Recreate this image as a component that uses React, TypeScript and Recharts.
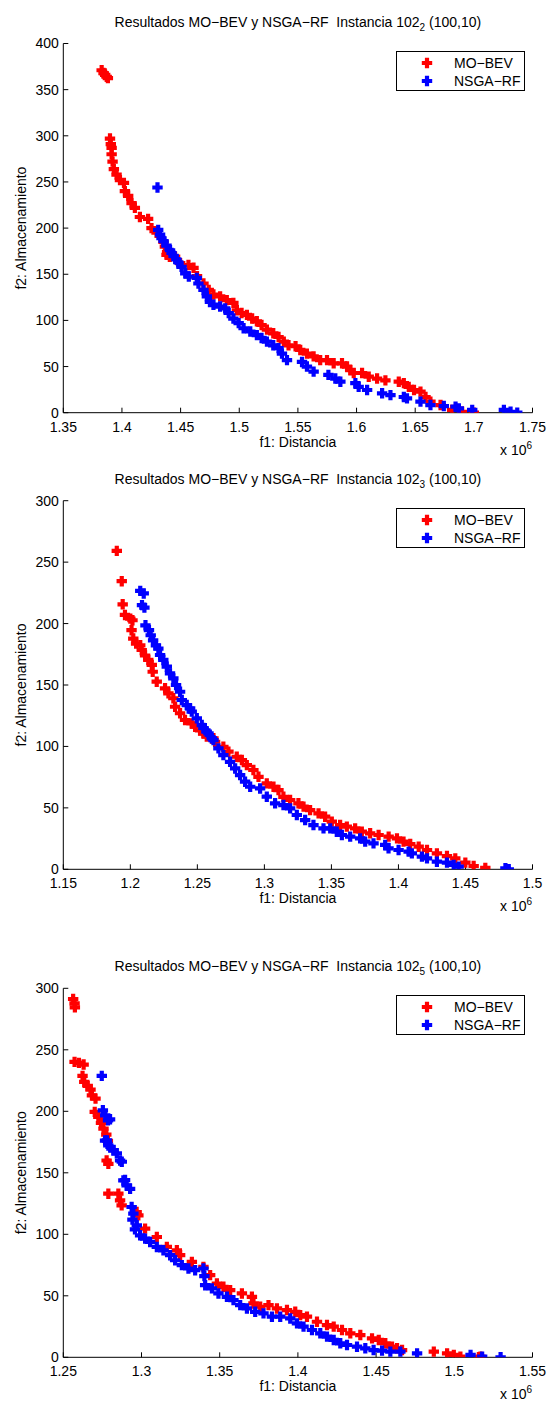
import React from "react";
import { ScatterChart, Scatter, XAxis, YAxis, Legend } from "recharts";

// f1 values are in units of 10^6
const SERIES_NAMES = ["MO\u2212BEV", "NSGA\u2212RF"];
const SERIES_COLORS = ["#ff0000", "#0000ff"];

const X_TICKS_A = [1.35, 1.4, 1.45, 1.5, 1.55, 1.6, 1.65, 1.7, 1.75];
const Y_TICKS_A = [0, 50, 100, 150, 200, 250, 300, 350, 400];
const X_TICKS_B = [1.15, 1.2, 1.25, 1.3, 1.35, 1.4, 1.45, 1.5];
const Y_TICKS_B = [0, 50, 100, 150, 200, 250, 300];
const X_TICKS_C = [1.25, 1.3, 1.35, 1.4, 1.45, 1.5, 1.55];
const Y_TICKS_C = [0, 50, 100, 150, 200, 250, 300];

// Instancia 102_2
const MOBEV_2: [number, number][] = [
  [1.3827, 371], [1.3843, 368], [1.3857, 366], [1.387, 364], [1.388, 362.5],
  [1.3898, 297], [1.3905, 291], [1.3912, 287], [1.3912, 280], [1.392, 272],
  [1.3931, 264], [1.3954, 258], [1.3983, 252], [1.4017, 249], [1.4025, 240],
  [1.4053, 235], [1.4082, 227], [1.411, 222], [1.4153, 212], [1.4223, 210],
  [1.4252, 200], [1.4295, 195], [1.4354, 185], [1.4366, 180], [1.4385, 174],
  [1.438, 171], [1.4408, 169], [1.4453, 169], [1.4496, 162], [1.4567, 160],
  [1.461, 157], [1.464, 148], [1.4695, 140], [1.474, 133], [1.478, 128],
  [1.4837, 126], [1.4894, 122], [1.495, 119], [1.498, 111], [1.502, 108],
  [1.5065, 106], [1.511, 102], [1.515, 99], [1.519, 95], [1.5236, 90],
  [1.529, 86], [1.5335, 82], [1.538, 77], [1.542, 73], [1.548, 72],
  [1.552, 68], [1.5577, 64], [1.5634, 61], [1.569, 57], [1.5748, 57],
  [1.5805, 53.5], [1.5876, 53.5], [1.5919, 50], [1.5947, 46], [1.5976, 43],
  [1.6047, 43], [1.6104, 39], [1.6175, 37], [1.6246, 35], [1.636, 33.6],
  [1.6403, 32], [1.6445, 28], [1.649, 24.6], [1.6545, 22.8], [1.6588, 17],
  [1.663, 12], [1.6716, 8.3], [1.6815, 3], [1.69, 1], [1.7, 0],
];
const NSGARF_2: [number, number][] = [
  [1.4303, 244], [1.4309, 198], [1.4325, 193], [1.4337, 189], [1.4354, 186],
  [1.438, 181], [1.441, 176], [1.4423, 173], [1.444, 170], [1.4465, 166],
  [1.448, 163], [1.4508, 158], [1.454, 151], [1.457, 147.5], [1.4638, 146],
  [1.4652, 140], [1.4695, 133], [1.4724, 126], [1.475, 120], [1.478, 117],
  [1.4837, 115], [1.488, 113], [1.491, 108], [1.495, 102], [1.4995, 97],
  [1.5037, 91.5], [1.5094, 88], [1.515, 84], [1.519, 81], [1.5236, 77],
  [1.529, 73], [1.5335, 70], [1.5364, 64], [1.5407, 57], [1.5535, 55],
  [1.5577, 50], [1.5634, 44.5], [1.576, 41], [1.5819, 37], [1.5862, 33.6],
  [1.599, 32], [1.6018, 28], [1.609, 24.6], [1.6218, 21], [1.6289, 19],
  [1.6403, 17], [1.643, 15.5], [1.6545, 12], [1.663, 8.3], [1.6744, 7.2],
  [1.6844, 6.5], [1.6872, 4.7], [1.6986, 3], [1.7256, 3], [1.7313, 1],
  [1.737, 0],
];

// Instancia 102_3
const MOBEV_3: [number, number][] = [
  [1.1899, 259.2], [1.1936, 234.5], [1.1943, 215.7], [1.196, 207], [1.2, 204],
  [1.2016, 202.7], [1.2009, 194.6], [1.2022, 187.8], [1.2043, 183.7], [1.2074, 182.3],
  [1.2085, 178.5], [1.211, 174], [1.2134, 170.4], [1.216, 166.3], [1.2167, 160.8],
  [1.2197, 152.7], [1.2259, 147.3], [1.2284, 143.2], [1.2321, 139.2], [1.2334, 132.3],
  [1.2371, 127], [1.2408, 121.5], [1.2458, 118.7], [1.2483, 116], [1.252, 113],
  [1.2545, 110.7], [1.257, 108], [1.262, 106.6], [1.2632, 103.8], [1.2694, 99.7],
  [1.2732, 95.7], [1.2794, 91.6], [1.2832, 88.9], [1.2869, 84.8], [1.2918, 80.8],
  [1.2956, 75.3], [1.3018, 69.9], [1.3068, 67.2], [1.3105, 64.5], [1.3142, 59],
  [1.3192, 56.4], [1.3254, 53.7], [1.3292, 51], [1.3341, 48.2], [1.3404, 45.5],
  [1.3453, 42.8], [1.3503, 38.8], [1.3565, 36], [1.3615, 34.7], [1.3677, 33.3],
  [1.3727, 30.6], [1.3789, 29.3], [1.3852, 27.9], [1.3927, 26.6], [1.3989, 25.2],
  [1.4038, 22.5], [1.4088, 20.6], [1.4151, 18.4], [1.4213, 15.7], [1.4287, 13],
  [1.4362, 10.8], [1.4424, 8.9], [1.4499, 5.4], [1.4561, 2.7], [1.4648, 1.1],
];
const NSGARF_3: [number, number][] = [
  [1.2074, 226.6], [1.21, 224.5], [1.2087, 215], [1.2105, 213], [1.2113, 198.6],
  [1.2139, 194.6], [1.2152, 190.5], [1.217, 186.4], [1.2191, 182.3], [1.2209, 179.6],
  [1.2222, 174.4], [1.2246, 170.4], [1.2272, 164.9], [1.2296, 159.5], [1.2321, 155.4],
  [1.2341, 150], [1.2371, 144.5], [1.2384, 137.8], [1.2421, 133.7], [1.2446, 130.9],
  [1.2458, 128.3], [1.2496, 122.9], [1.2533, 117.4], [1.2545, 115], [1.257, 112],
  [1.2583, 110.6], [1.2608, 106.6], [1.262, 105.1], [1.2657, 98.4], [1.2694, 92.9],
  [1.2744, 87.5], [1.2782, 82.1], [1.2819, 76.7], [1.2856, 71.3], [1.2894, 67.2],
  [1.2968, 65.8], [1.3018, 59.1], [1.308, 53.7], [1.3142, 52.3], [1.3192, 49.6],
  [1.3242, 44.2], [1.3304, 40.1], [1.3366, 36], [1.3441, 33.3], [1.3491, 33.3],
  [1.354, 30.6], [1.3578, 27.9], [1.364, 26.6], [1.3714, 25.2], [1.3752, 22.5],
  [1.3814, 21.1], [1.3901, 19.8], [1.3926, 17.1], [1.4001, 15.7], [1.4076, 14.4],
  [1.41, 13], [1.4175, 10.3], [1.4213, 8.9], [1.4287, 6.2], [1.4362, 5.4],
  [1.4412, 3.5], [1.4449, 2.2], [1.4798, 0.8], [1.4823, 0],
];

// Instancia 102_5
const MOBEV_5: [number, number][] = [
  [1.2563, 291.3], [1.2572, 287.8], [1.2574, 284.5], [1.2572, 240.2], [1.26, 239.4],
  [1.263, 238], [1.2623, 228.8], [1.2634, 224], [1.2656, 220.7], [1.2674, 217.7],
  [1.2683, 213], [1.2706, 210.3], [1.2701, 199.5], [1.2724, 195.4], [1.2741, 190.5],
  [1.2757, 185.9], [1.2775, 181], [1.2785, 176], [1.2777, 160], [1.2788, 157.3],
  [1.2788, 133], [1.2852, 133], [1.2863, 127.6], [1.2873, 123.5], [1.2969, 118.1],
  [1.298, 115.4], [1.3023, 104.6], [1.3098, 97.8], [1.3162, 89.7], [1.3226, 87],
  [1.3247, 83], [1.3322, 77.6], [1.3396, 73.5], [1.3439, 66.8], [1.3482, 60],
  [1.3524, 57.3], [1.3567, 54.6], [1.3642, 51.9], [1.3706, 49.2], [1.3716, 43.8],
  [1.3759, 41.1], [1.3812, 42.4], [1.3866, 39.7], [1.393, 38.4], [1.3983, 37],
  [1.4015, 34.3], [1.4058, 33], [1.4122, 28.9], [1.4186, 26.2], [1.4229, 24.9],
  [1.4282, 22.2], [1.4335, 19.5], [1.4399, 18.1], [1.4474, 15.4], [1.4517, 14.1],
  [1.4559, 11.4], [1.4602, 8.6], [1.4634, 7.3], [1.4666, 5.9], [1.4869, 4.6],
  [1.4954, 3.2], [1.4997, 1.9], [1.5039, 0.5], [1.5157, 0], [1.5167, 0.5],
];
const NSGARF_5: [number, number][] = [
  [1.2746, 228.8], [1.2753, 200.8], [1.2768, 196.7], [1.2786, 192.7], [1.2799, 193.5],
  [1.2767, 176.2], [1.2779, 176.4], [1.2788, 172.2], [1.2802, 171], [1.282, 168.1],
  [1.2842, 165.9], [1.2863, 160], [1.2874, 159], [1.2884, 143.8], [1.2895, 144.1],
  [1.2905, 139.7], [1.2927, 137], [1.2937, 122.2], [1.2942, 112], [1.2948, 116.8],
  [1.2958, 104], [1.297, 107.3], [1.2991, 99.2], [1.3023, 96.5], [1.3055, 93.8],
  [1.3098, 89.7], [1.314, 87], [1.3183, 83], [1.3215, 78.9], [1.3258, 74.9],
  [1.33, 72.2], [1.3343, 70.8], [1.3396, 72.2], [1.3402, 66], [1.3407, 58.6],
  [1.345, 56], [1.3492, 51.9], [1.3546, 49.2], [1.3588, 46.5], [1.3631, 42.4],
  [1.3674, 39.7], [1.3727, 37], [1.378, 35.7], [1.3834, 33], [1.3887, 33],
  [1.3951, 31.6], [1.3994, 27.6], [1.4036, 24.9], [1.409, 22.2], [1.4143, 19.5],
  [1.4186, 16.8], [1.4229, 14.1], [1.4271, 11.4], [1.4314, 10], [1.4378, 8.6],
  [1.4431, 7.3], [1.4484, 5.9], [1.4538, 5.4], [1.4591, 4.6], [1.4655, 4.6],
  [1.4762, 3.2], [1.5104, 1.9], [1.5178, 0.5], [1.5296, 0],
];

const FONT = "'Liberation Sans', Arial, Helvetica, sans-serif";
const PLOT_LEFT = 63.3;
const PLOT_RIGHT = 532.5;
const PAGE_W = 548;

const toPoints = (arr: [number, number][]) => arr.map(([x, y]) => ({ x, y }));
const fmt = (v: number) => String(+v.toFixed(2));

const plusPath = (cx: number, cy: number, a = 5.2, t = 2.1) =>
  `M${cx - a},${cy - t}H${cx - t}V${cy - a}H${cx + t}V${cy - t}H${cx + a}V${cy + t}H${cx + t}V${cy + a}H${cx - t}V${cy + t}H${cx - a}Z`;

const PlusShape = (props: any) => {
  const { cx, cy, fill } = props;
  if (cx == null || cy == null) return null;
  return <path d={plusPath(cx, cy)} fill={fill} />;
};

const LegendBox = ({ payload }: { payload?: any[] }) => {
  if (!payload) return null;
  return (
    <div
      style={{
        position: "relative",
        width: 129,
        height: 40,
        boxSizing: "border-box",
        border: "1.3px solid #000",
        background: "#fff",
        fontFamily: FONT,
        fontSize: 14,
        color: "#000",
      }}
    >
      {payload.map((entry, i) => (
        <div key={i} style={{ position: "absolute", left: 0, top: 2 + i * 18, height: 18, width: 127 }}>
          <svg width={40} height={18} style={{ position: "absolute", left: 10, top: 0 }}>
            <path d={plusPath(20, 9)} fill={entry.color || SERIES_COLORS[i]} />
          </svg>
          <span style={{ position: "absolute", left: 57, top: 0, lineHeight: "18px", whiteSpace: "pre" }}>
            {entry.value}
          </span>
        </div>
      ))}
    </div>
  );
};

interface PanelProps {
  top: number;
  height: number;
  plotTop: number;
  plotBottom: number;
  sub: string;
  xDomain: [number, number];
  xTicks: number[];
  yDomain: [number, number];
  yTicks: number[];
  red: [number, number][];
  blue: [number, number][];
}

function ParetoPanel({ top, height, plotTop, plotBottom, sub, xDomain, xTicks, yDomain, yTicks, red, blue }: PanelProps) {
  const cx = (PLOT_LEFT + PLOT_RIGHT) / 2;
  const cy = (plotTop + plotBottom) / 2;
  const tickStyle = { fill: "#000", fontSize: 14, fontFamily: FONT };
  return (
    <div style={{ position: "absolute", left: 0, top, width: PAGE_W, height }}>
      <ScatterChart
        width={PAGE_W}
        height={height}
        margin={{ top: plotTop, right: PAGE_W - PLOT_RIGHT, bottom: 0, left: 0 }}
      >
        <XAxis
          type="number"
          dataKey="x"
          domain={xDomain}
          ticks={xTicks}
          interval={0}
          height={height - plotBottom}
          tickSize={-5}
          tickMargin={14}
          tickFormatter={fmt}
          tick={tickStyle}
          stroke="#000"
          allowDataOverflow
        />
        <XAxis
          xAxisId="top"
          orientation="top"
          type="number"
          domain={xDomain}
          ticks={xTicks}
          interval={0}
          height={0}
          tickSize={-5}
          tickFormatter={() => ""}
          stroke="#000"
          allowDataOverflow
        />
        <YAxis
          type="number"
          dataKey="y"
          domain={yDomain}
          ticks={yTicks}
          interval={0}
          width={PLOT_LEFT}
          tickSize={-5}
          tickMargin={9.5}
          tick={tickStyle}
          stroke="#000"
          allowDataOverflow
        />
        <YAxis
          yAxisId="right"
          orientation="right"
          type="number"
          domain={yDomain}
          ticks={yTicks}
          interval={0}
          width={0}
          tickSize={-5}
          tickFormatter={() => ""}
          stroke="#000"
          allowDataOverflow
        />
        <Scatter
          name={SERIES_NAMES[0]}
          data={toPoints(red)}
          fill={SERIES_COLORS[0]}
          shape={PlusShape}
          isAnimationActive={false}
        />
        <Scatter
          name={SERIES_NAMES[1]}
          data={toPoints(blue)}
          fill={SERIES_COLORS[1]}
          shape={PlusShape}
          isAnimationActive={false}
        />
        <Legend
          layout="horizontal"
          verticalAlign="middle"
          align="center"
          wrapperStyle={{ left: 396, top: plotTop + 7, width: 129, height: 40 }}
          content={(p: any) => <LegendBox payload={p.payload} />}
        />
      </ScatterChart>
      <svg
        width={PAGE_W}
        height={height}
        style={{ position: "absolute", left: 0, top: 0, pointerEvents: "none" }}
        fontFamily={FONT}
        fontSize={14}
        fill="#000"
      >
        <text x={cx} y={plotTop - 17} textAnchor="middle" style={{ whiteSpace: "pre" }}>
          {"Resultados MO\u2212BEV y NSGA\u2212RF  Instancia 102"}
          <tspan dy={4} fontSize={10}>{sub}</tspan>
          <tspan dy={-4}>{" (100,10)"}</tspan>
        </text>
        <text x={cx} y={plotBottom + 34} textAnchor="middle">f1: Distancia</text>
        <text x={500} y={plotBottom + 42}>
          x 10<tspan dy={-6} fontSize={10}>6</tspan>
        </text>
        <text x={26} y={cy} textAnchor="middle" transform={`rotate(-90 26 ${cy})`}>
          f2: Almacenamiento
        </text>
      </svg>
    </div>
  );
}

export default function App() {
  return (
    <div style={{ position: "absolute", left: 0, top: 0, width: PAGE_W, height: 1401, background: "#fff" }}>
      <ParetoPanel
        top={0}
        height={460}
        plotTop={43.5}
        plotBottom={412.7}
        sub="2"
        xDomain={[1.35, 1.75]}
        xTicks={X_TICKS_A}
        yDomain={[0, 400]}
        yTicks={Y_TICKS_A}
        red={MOBEV_2}
        blue={NSGARF_2}
      />
      <ParetoPanel
        top={460}
        height={490}
        plotTop={40.7}
        plotBottom={409.3}
        sub="3"
        xDomain={[1.15, 1.5]}
        xTicks={X_TICKS_B}
        yDomain={[0, 300]}
        yTicks={Y_TICKS_B}
        red={MOBEV_3}
        blue={NSGARF_3}
      />
      <ParetoPanel
        top={950}
        height={451}
        plotTop={38.3}
        plotBottom={407.3}
        sub="5"
        xDomain={[1.25, 1.55]}
        xTicks={X_TICKS_C}
        yDomain={[0, 300]}
        yTicks={Y_TICKS_C}
        red={MOBEV_5}
        blue={NSGARF_5}
      />
    </div>
  );
}
